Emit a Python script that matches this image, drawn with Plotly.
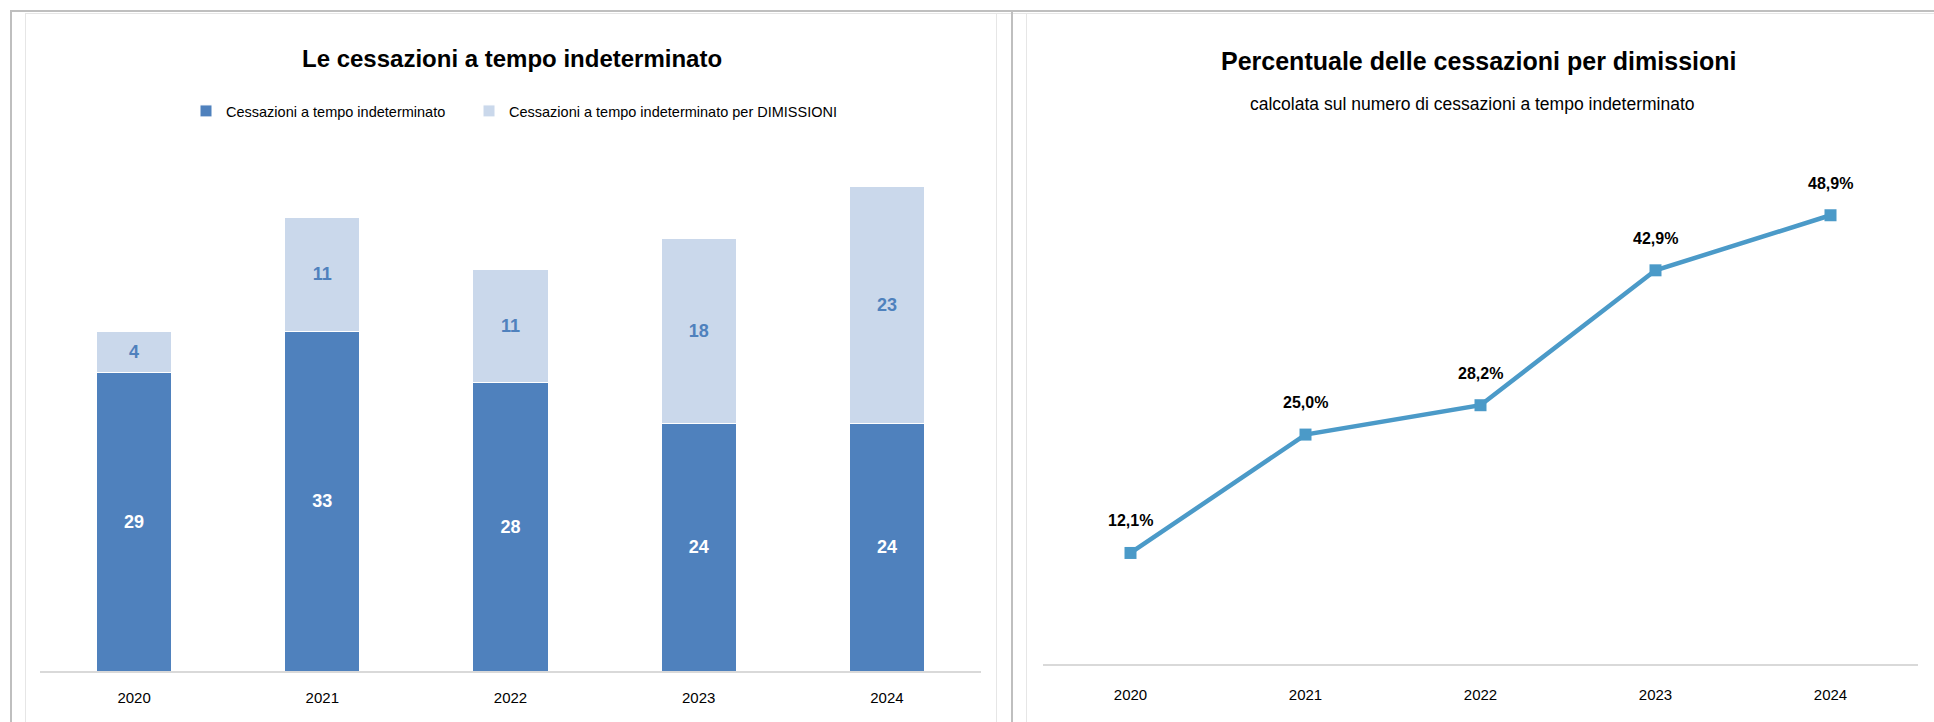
import plotly.graph_objects as go

# ---- data ----
years = ["2020", "2021", "2022", "2023", "2024"]
cessazioni = [29, 33, 28, 24, 24]
dimissioni = [4, 11, 11, 18, 23]
percentuale = [12.1, 25.0, 28.2, 42.9, 48.9]

W, H = 1934, 722
FONT = "Liberation Sans, Arial, sans-serif"

def px(x):
    return x / W

def py(y):
    return 1 - y / H

DARK = "#4F81BD"
LIGHT = "#CAD8EB"
LINE = "#4B9AC8"

fig = go.Figure()

fig.add_trace(go.Bar(
    x=years, y=cessazioni, name="Cessazioni a tempo indeterminato",
    marker=dict(color=DARK, line=dict(color="white", width=1)),
    text=[str(v) for v in cessazioni], textposition="inside",
    insidetextanchor="middle", textangle=0,
    textfont=dict(color="white", size=18, family=FONT, weight="bold"),
    xaxis="x", yaxis="y", width=0.4, legend="legend",
))
fig.add_trace(go.Bar(
    x=years, y=dimissioni, name="Cessazioni a tempo indeterminato per DIMISSIONI",
    marker=dict(color=LIGHT, line=dict(color="white", width=1)),
    text=[str(v) for v in dimissioni], textposition="inside",
    insidetextanchor="middle", textangle=0,
    textfont=dict(color=DARK, size=18, family=FONT, weight="bold"),
    xaxis="x", yaxis="y", width=0.4, legend="legend2",
))

fig.add_trace(go.Scatter(
    x=years, y=percentuale, mode="lines+markers",
    line=dict(color=LINE, width=4.5),
    marker=dict(symbol="square", size=12, color=LINE),
    xaxis="x2", yaxis="y2", showlegend=False, hoverinfo="skip",
))

annotations = []
for i, v in enumerate(percentuale):
    annotations.append(dict(
        x=i, y=v, xref="x2", yref="y2", yshift=32, showarrow=False,
        text=f"{v:.1f}%".replace(".", ","),
        font=dict(size=16, family=FONT, color="black", weight="bold"),
    ))

annotations += [
    dict(x=px(512), y=py(58), xref="paper", yref="paper", showarrow=False,
         text="Le cessazioni a tempo indeterminato", xanchor="center", yanchor="middle",
         font=dict(size=24, family=FONT, color="black", weight="bold")),
    dict(x=px(1478), y=py(61), xref="paper", yref="paper", showarrow=False,
         text="Percentuale delle cessazioni per dimissioni", xanchor="center", yanchor="middle",
         font=dict(size=25, family=FONT, color="black", weight="bold")),
    dict(x=px(1472), y=py(104), xref="paper", yref="paper", showarrow=False,
         text="calcolata sul numero di cessazioni a tempo indeterminato", xanchor="center",
         yanchor="middle", font=dict(size=17.5, family=FONT, color="black")),
]

shapes = [
    dict(type="line", xref="paper", yref="paper", x0=px(10), x1=1, y0=py(11), y1=py(11),
         line=dict(color="#BFBFBF", width=2)),
    dict(type="line", xref="paper", yref="paper", x0=px(25), x1=1, y0=py(13.5), y1=py(13.5),
         line=dict(color="#E6E6E6", width=1)),
    dict(type="line", xref="paper", yref="paper", x0=px(11), x1=px(11), y0=py(10), y1=0,
         line=dict(color="#BFBFBF", width=2)),
    dict(type="line", xref="paper", yref="paper", x0=px(25.5), x1=px(25.5), y0=py(13), y1=0,
         line=dict(color="#E6E6E6", width=1)),
    dict(type="line", xref="paper", yref="paper", x0=px(996.5), x1=px(996.5), y0=py(13), y1=0,
         line=dict(color="#E6E6E6", width=1)),
    dict(type="line", xref="paper", yref="paper", x0=px(1012), x1=px(1012), y0=py(10), y1=0,
         line=dict(color="#BFBFBF", width=2)),
    dict(type="line", xref="paper", yref="paper", x0=px(1026.5), x1=px(1026.5), y0=py(13), y1=0,
         line=dict(color="#E6E6E6", width=1)),
]

legend_style = dict(orientation="h", yanchor="middle", xanchor="left",
                    font=dict(size=14.5, family=FONT, color="black"),
                    itemwidth=30, bgcolor="rgba(0,0,0,0)")

fig.update_layout(
    width=W, height=H, margin=dict(l=0, r=0, t=0, b=0),
    paper_bgcolor="white", plot_bgcolor="white",
    barmode="stack", bargap=0.6,
    font=dict(family=FONT, color="black"),
    showlegend=True,
    legend=dict(x=px(186), y=py(111), **legend_style),
    legend2=dict(x=px(469), y=py(111), **legend_style),
    xaxis=dict(domain=[px(40), px(981)], range=[-0.5, 4.5], type="category",
               showline=True, linecolor="#D9D9D9", linewidth=2, showgrid=False,
               ticks="", ticklabelstandoff=12,
               tickfont=dict(size=15, family=FONT, color="black"), anchor="y"),
    yaxis=dict(domain=[1 - 671 / H, 1 - 156 / H], range=[0, 50], visible=False,
               showgrid=False, zeroline=False, anchor="x"),
    xaxis2=dict(domain=[px(1043), px(1918)], range=[-0.5, 4.5], type="category",
                showline=True, linecolor="#D9D9D9", linewidth=2, showgrid=False,
                ticks="", ticklabelstandoff=16,
                tickfont=dict(size=15, family=FONT, color="black"), anchor="y2"),
    yaxis2=dict(domain=[1 - 664 / H, 1 - 113.4 / H], range=[0, 60], visible=False,
                showgrid=False, zeroline=False, anchor="x2"),
    annotations=annotations, shapes=shapes,
)

fig.write_html("out.html", config={"displayModeBar": False},
               post_script="document.body.style.margin='0';")
